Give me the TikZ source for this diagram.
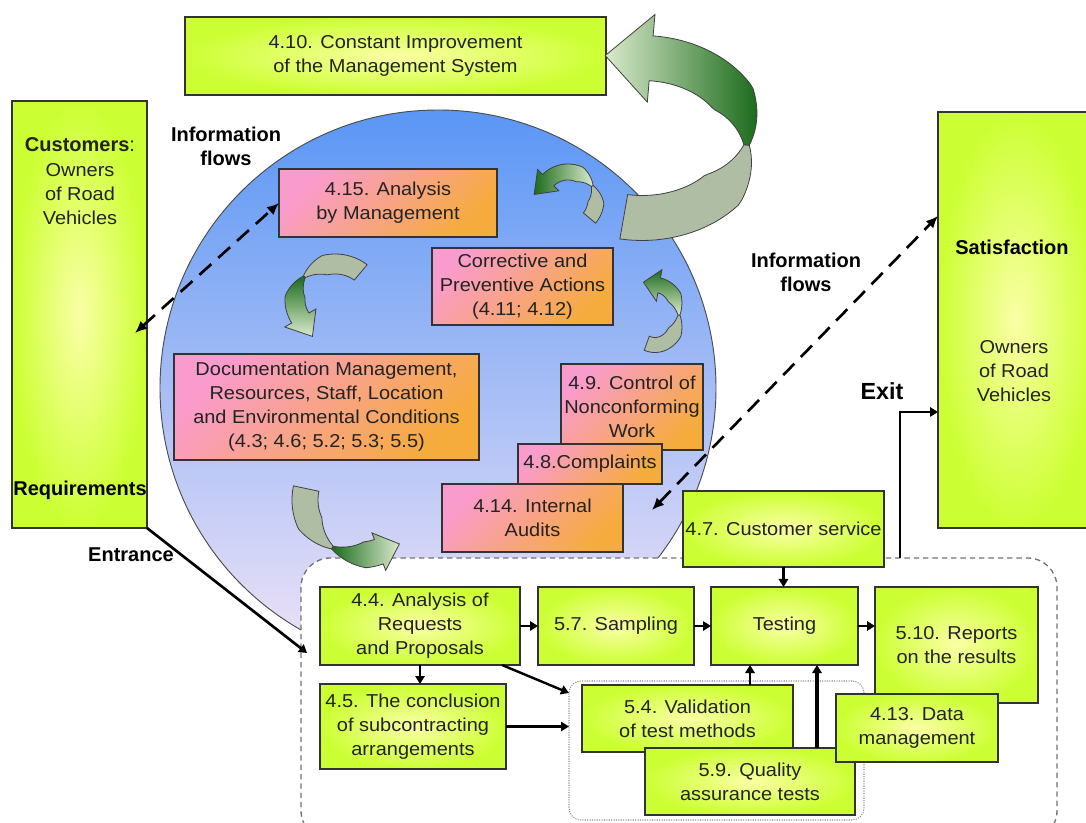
\documentclass[tikz,border=0pt]{standalone}
\usepackage{fontspec}
\setmainfont{Liberation Sans}[FakeStretch=1.07]
\newfontfamily\lblfont{Liberation Sans}
\usetikzlibrary{arrows.meta,calc}
\definecolor{gin}{RGB}{250,255,165}
\definecolor{gout}{RGB}{204,255,51}
\definecolor{pk}{RGB}{250,155,205}
\definecolor{og}{RGB}{246,172,60}
\definecolor{txt}{RGB}{35,35,35}
\definecolor{cTop}{RGB}{90,150,245}
\definecolor{cMid}{RGB}{132,184,248}
\definecolor{cBot}{RGB}{242,228,246}
\definecolor{ribg}{RGB}{176,189,165}
\definecolor{ribdark}{RGB}{28,108,28}
\definecolor{riblight}{RGB}{218,234,204}
\newcommand\bx[7]{%
  \pgfmathsetmacro\bw{((#4)-(#2))*0.75}%
  \pgfmathsetmacro\bh{((#5)-(#3))*0.75}%
  \node[#6, minimum width=\bw pt, minimum height=\bh pt] (#1) at ({((#2)+(#4))/2},{((#3)+(#5))/2}) {#7};}
\newcommand\rw[2]{(0.5*(#1)*(0.12+0.88*min(1,abs(\x-(#2))/35)))}
\newcommand\ribbon[9]{%
  \pgfmathsetmacro\rs{((#5)-(#4))/abs((#5)-(#4))}%
  \pgfmathsetmacro\rL{(#8)*0.75}%
  \filldraw[ribline, fill=ribg] plot[domain=#3:#4,samples=30] ({(#1+\rw{#6}{#4})*cos(\x)},{(#2+\rw{#6}{#4})*sin(\x)}) -- plot[domain=#4:#3,samples=30] ({(#1-\rw{#6}{#4})*cos(\x)},{(#2-\rw{#6}{#4})*sin(\x)}) -- cycle;
  \coordinate (rM) at ({(#1)*cos(#5)},{(#2)*sin(#5)});
  \coordinate (rN) at ({(#1)*cos((#5)+\rs)},{(#2)*sin((#5)+\rs)});
  \shadedraw[ribline, top color=ribdark, bottom color=riblight, shading angle=#9] plot[domain=#4:#5,samples=30] ({(#1+\rw{#6}{#4})*cos(\x)},{(#2+\rw{#6}{#4})*sin(\x)}) -- ({(#1+#7)*cos(#5)},{(#2+#7)*sin(#5)}) -- ($(rM)!\rL pt!(rN)$) -- ({(#1-#7)*cos(#5)},{(#2-#7)*sin(#5)}) -- plot[domain=#5:#4,samples=30] ({(#1-\rw{#6}{#4})*cos(\x)},{(#2-\rw{#6}{#4})*sin(\x)}) -- cycle;
}
\begin{document}
\begin{tikzpicture}[x=0.75pt,y=-0.75pt,
  base/.style={outer sep=0pt, inner sep=0pt, align=center, text=txt, font=\fontsize{14}{18}\selectfont, draw=black!80, line width=0.8pt},
  gbox/.style={base, inner color=gin, outer color=gout},
  pbox/.style={base, top color=pk, bottom color=og, shading angle=45},
  plain/.style={inner sep=0pt, align=center, text=txt, font=\fontsize{14}{18}\selectfont},
  lbl/.style={inner sep=0pt, align=center, text=black, font=\lblfont\bfseries\fontsize{15}{18}\selectfont},
  ribline/.style={draw=black!75, line width=0.6pt},
  conn/.style={draw=black, line width=1.8pt, -{Triangle[length=6pt,width=7pt]}},
  info/.style={draw=black, line width=2pt, dash pattern=on 12pt off 7pt, {Latex[length=9pt,width=8pt]}-{Latex[length=9pt,width=8pt]}}]
\useasboundingbox (0,0) rectangle (1086,823);
\clip (0,0) rectangle (1086,823);
% circle
\shade[top color=cTop, middle color=cMid, bottom color=cBot] (438,388) circle[radius=278];
\draw[black!70, line width=0.7pt] (438,388) circle[radius=278];
% dashed region
\draw[fill=white, draw=black!55, line width=1pt, dash pattern=on 4pt off 3pt, rounded corners=22pt] (301,558) rectangle (1057,840);
\node[draw=black!45, line width=0.8pt, densely dotted, rounded corners=9pt, minimum width=221.25pt, minimum height=104.25pt, inner sep=0pt, outer sep=0pt] (qa) at (716.5,750.5) {};
% side and top boxes
\bx{imp}{185}{17}{606}{95}{gbox}{4.10. Constant Improvement\\of the Management System}
\bx{cust}{12}{101}{147}{528}{gbox}{}
\bx{sat}{938}{112}{1095}{528}{gbox}{}
\node[plain] (custa) at (80,145) {{\lblfont\bfseries\fontsize{15}{18}\selectfont Customers}{\lblfont\fontsize{15}{18}\selectfont :}};
\node[plain] (custb) at (80,194) {Owners\\of Road\\Vehicles};
\node[lbl] (req) at (80,490) {Requirements};
\node[lbl] (satt) at (1012,247) {Satisfaction};
\node[plain] (satb) at (1014,371) {Owners\\of Road\\Vehicles};
% pink boxes
\bx{p415}{279}{169}{497}{237}{pbox}{4.15. Analysis\\by Management}
\bx{pcorr}{432}{248}{613}{325}{pbox}{Corrective and\\Preventive Actions\\(4.11; 4.12)}
\bx{pdoc}{174}{354}{479}{460}{pbox}{Documentation Management,\\Resources, Staff, Location\\and Environmental Conditions\\(4.3; 4.6; 5.2; 5.3; 5.5)}
\bx{p49}{561}{364}{703}{450}{pbox}{4.9. Control of\\Nonconforming\\Work}
\bx{p414}{442}{484}{623}{552}{pbox}{4.14. Internal\\Audits}
\bx{p48}{518}{444}{662}{484}{pbox}{4.8.Complaints}
% ribbon arrows
\begin{scope}[shift={(642,138)}]\ribbon{105}{80}{100}{5}{-85}{45}{44}{46}{-90}\end{scope}
\begin{scope}[shift={(568,200)}]\ribbon{28}{28}{40}{-30}{-135}{16}{15}{20}{90}\end{scope}
\begin{scope}[shift={(655,315)}]\ribbon{24}{30}{110}{0}{-80}{15}{16}{16}{0}\end{scope}
\begin{scope}[shift={(335,300)}]\ribbon{40}{36}{-50}{-140}{-210}{20}{18}{22}{0}\end{scope}
\begin{scope}[shift={(360,500)}]\ribbon{55}{55}{192}{120}{70}{26}{20}{22}{90}\end{scope}
% green process boxes
\bx{g47}{683}{491}{884}{567}{gbox}{4.7. Customer service}
\bx{g44}{320}{587}{520}{665}{gbox}{4.4. Analysis of\\Requests\\and Proposals}
\bx{g57}{538}{587}{694}{665}{gbox}{5.7. Sampling}
\bx{gtest}{711}{587}{858}{665}{gbox}{Testing}
\bx{g45}{320}{684}{506}{769}{gbox}{4.5. The conclusion\\of subcontracting\\arrangements}
\bx{g54}{582}{685}{793}{752}{gbox}{5.4. Validation\\of test methods}
\bx{g59}{645}{748}{855}{815}{gbox}{5.9. Quality\\assurance tests}
\bx{g510}{875}{587}{1038}{703}{gbox}{5.10. Reports\\on the results}
\bx{g413}{836}{694}{998}{762}{gbox}{4.13. Data\\management}
% connectors
\coordinate (qa1) at (569,693);
\coordinate (entr) at (307,653);
\coordinate (exitstart) at (900,558);
\coordinate (infoL) at (135,333);
\coordinate (infoR) at (652,510);
\draw[conn] (g47.south) -- (g47.south |- gtest.north);
\draw[conn] (g44.east) -- (g57.west);
\draw[conn] (g57.east) -- (gtest.west);
\draw[conn] (gtest.east) -- (gtest.east -| g510.west);
\draw[conn] (g44.south) -- (g44.south |- g45.north);
\draw[conn] ($(g44.south east)+(-18,0)$) -- (qa1);
\draw[conn] (g45.east) -- (g45.east -| qa.west);
\draw[conn] ($(g54.north east)+(-43,0)$) -- ($(gtest.south west)+(39,0)$);
\draw[conn, line width=2.4pt] ($(g59.north west)+(172,0)$) -- ($(gtest.south west)+(106,0)$);
\draw[conn] (exitstart) |- ($(sat.north west)+(0,300)$);
\draw[conn, line width=2pt] (cust.south east) -- (entr);
\draw[info] (infoL) -- (p415.west);
\draw[info] (infoR) -- ($(sat.north west)+(0,104)$);
% labels
\node[lbl] (infl) at (226,146) {Information\\flows};
\node[lbl] (infr) at (806,272) {Information\\flows};
\node[lbl, font=\lblfont\bfseries\fontsize{17.5}{20}\selectfont] (exitl) at (882,391) {Exit};
\node[lbl] (entl) at (131,555) {Entrance};
\end{tikzpicture}
\end{document}
